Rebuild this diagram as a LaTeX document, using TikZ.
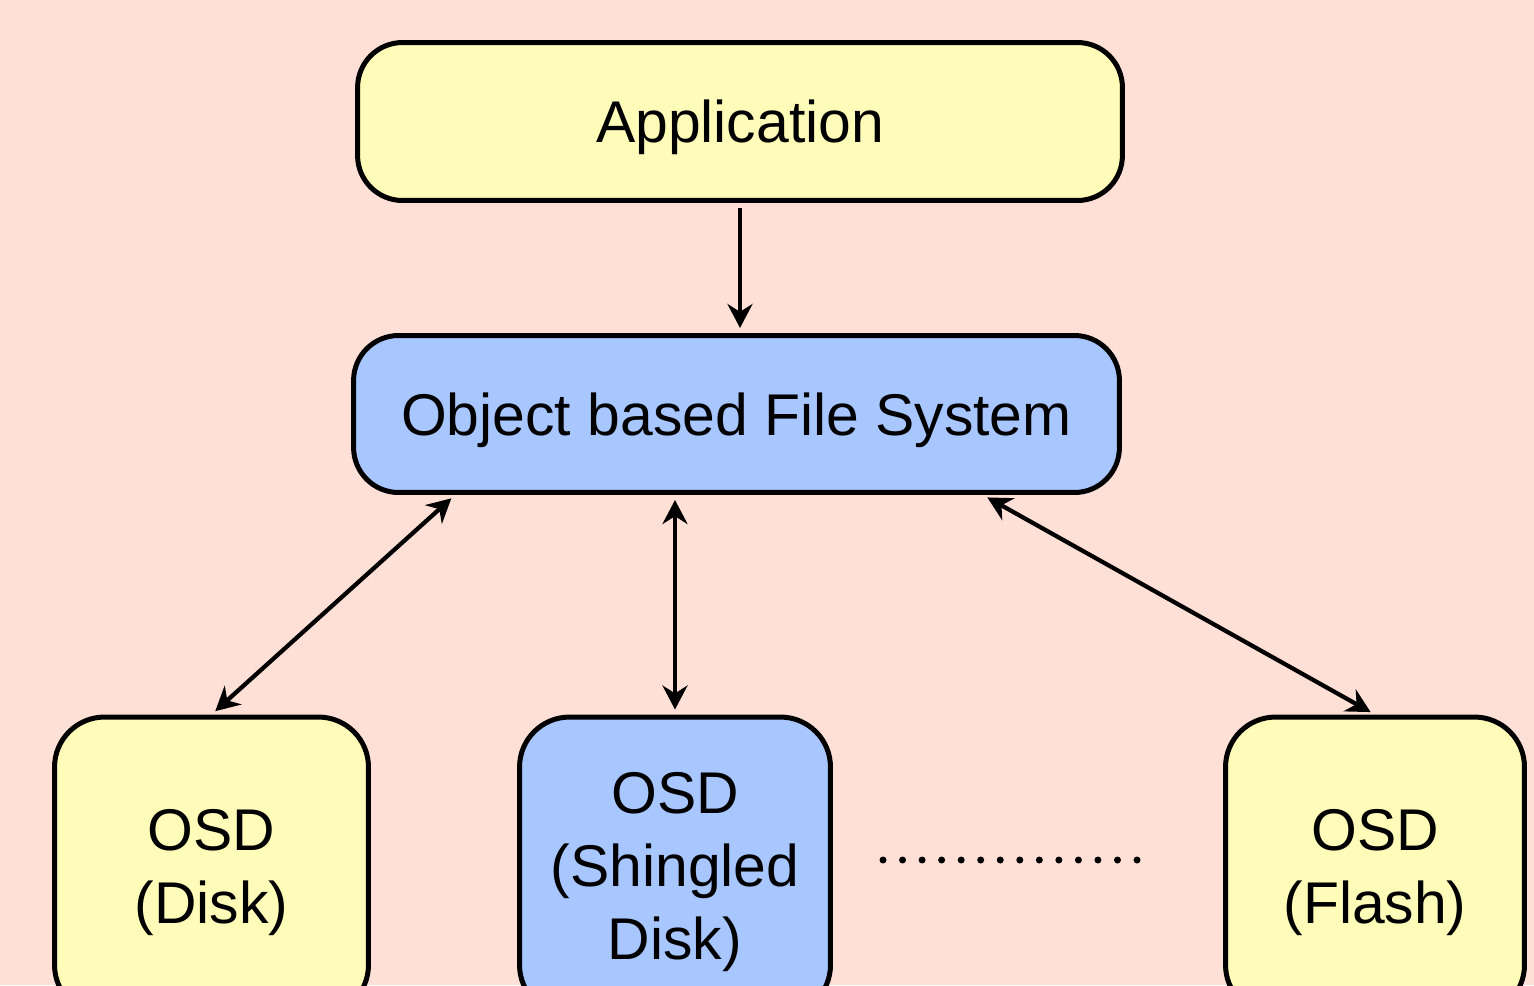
\documentclass[tikz,border=0pt]{standalone}
\usepackage{fontspec}
\setmainfont{Liberation Sans}
\usetikzlibrary{arrows.meta}

\definecolor{bgpink}{RGB}{255,224,214}
\definecolor{boxyellow}{RGB}{255,251,185}
\definecolor{boxblue}{RGB}{168,198,255}

\begin{document}
\begin{tikzpicture}[x=0.02cm,y=-0.02cm,
		box/.style={draw,line width=0.1cm,rounded corners=0.9cm,align=center,text depth=0pt,
			font=\fontsize{33.5}{41.5}\selectfont},
		osd/.style={box,rounded corners=1cm,minimum height=5.96cm},
		link/.style={line width=0.085cm,shorten <=0.1cm,shorten >=0.1cm},
		>={Stealth[length=0.48cm,width=0.5cm]}]
		\clip (0,0) rectangle (1534,985);
		\fill[bgpink] (0,0) rectangle (1534,985);
		
		\node[box,fill=boxyellow,minimum width=15.3cm,minimum height=3.16cm] (app) at (740,121.5) {Application};
		\node[box,fill=boxblue,minimum width=15.32cm,minimum height=3.14cm] (ofs) at (736.5,414) {Object based File System};
		
		\node[osd,fill=boxyellow,minimum width=6.28cm] (disk) at (211.5,866) {OSD\\(Disk)};
		\node[osd,fill=boxblue,minimum width=6.22cm] (shingled) at (675,866) {OSD\\(Shingled\\Disk)};
		\node[osd,fill=boxyellow,minimum width=5.98cm] (flash) at (1375,866) {OSD\\(Flash)};
		
		\draw[link,->] (app.south) -- (app.south |- ofs.north);
		\draw[link,<->] ([xshift=-5.63cm]ofs.south) -- (disk.north);
		\draw[link,<->] (ofs.south -| shingled.north) -- (shingled.north);
		\draw[link,<->] ([xshift=4.93cm]ofs.south) -- (flash.north);
		
		\foreach \i in {0,...,13}
			\fill (883+\i*19.54,860) circle[radius=0.07cm];
	\end{tikzpicture}
\end{document}
